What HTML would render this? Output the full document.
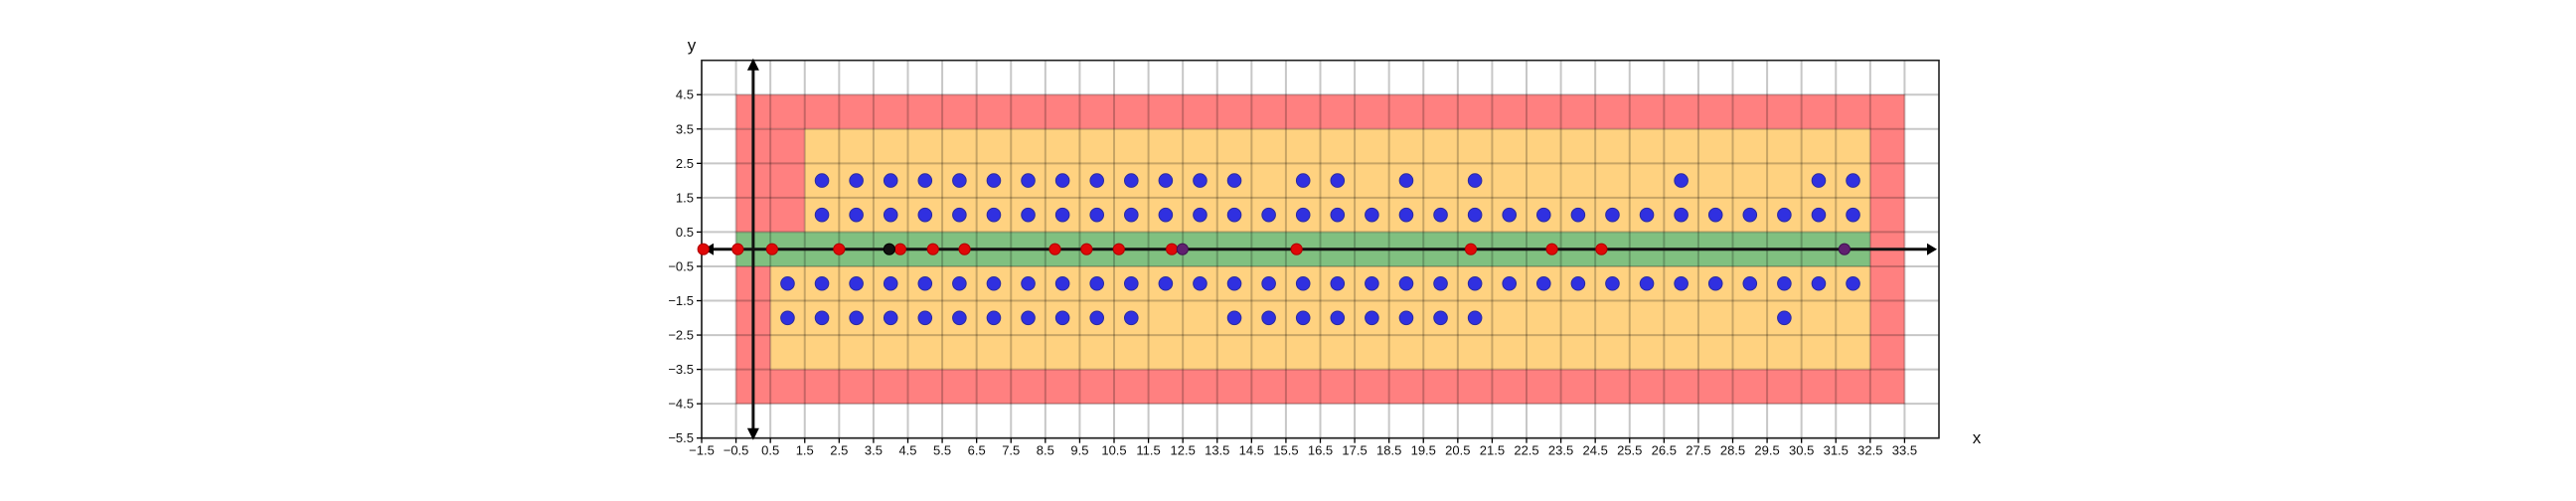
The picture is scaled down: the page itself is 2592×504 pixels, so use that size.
<!DOCTYPE html>
<html><head><meta charset="utf-8"><style>
html,body{margin:0;padding:0;background:#fff;width:2592px;height:504px;overflow:hidden}
svg{display:block;font-family:"Liberation Sans","DejaVu Sans",sans-serif}
</style></head><body>
<svg id="chart" width="2592" height="504" xmlns="http://www.w3.org/2000/svg"></svg>
<script>
const xTicks = [-1.5,-0.5,0.5,1.5,2.5,3.5,4.5,5.5,6.5,7.5,8.5,9.5,10.5,11.5,12.5,13.5,14.5,15.5,16.5,17.5,18.5,19.5,20.5,21.5,22.5,23.5,24.5,25.5,26.5,27.5,28.5,29.5,30.5,31.5,32.5,33.5];
const yTicks = [-5.5,-4.5,-3.5,-2.5,-1.5,-0.5,0.5,1.5,2.5,3.5,4.5];
const blueRow2 = [2,3,4,5,6,7,8,9,10,11,12,13,14,16,17,19,21,27,31,32];
const blueRow1 = [2,3,4,5,6,7,8,9,10,11,12,13,14,15,16,17,18,19,20,21,22,23,24,25,26,27,28,29,30,31,32];
const blueRowM1 = [1,2,3,4,5,6,7,8,9,10,11,12,13,14,15,16,17,18,19,20,21,22,23,24,25,26,27,28,29,30,31,32];
const blueRowM2 = [1,2,3,4,5,6,7,8,9,10,11,14,15,16,17,18,19,20,21,30];
const redPts = [-1.45,-0.45,0.55,2.5,4.28,5.23,6.15,8.78,9.7,10.64,12.18,15.81,20.88,23.24,24.68];
const blackPts = [3.96];
const purplePts = [12.49,31.75];
// regions: [x0,x1,y0,y1,color]
const regionX0 = [-0.5,-0.5,1.5,0.5,-0.5,32.5,-0.5];
const regionX1 = [33.5,1.5,32.5,32.5,32.5,33.5,0.5];
const regionY0 = [3.5,0.5,0.5,-3.5,-0.5,-4.5,-4.5];
const regionY1 = [4.5,3.5,3.5,-0.5,0.5,4.5,-0.5];
const regionC = ['#ff8080','#ff8080','#ffd280','#ffd280','#80c080','#ff8080','#ff8080'];
const regionN = ['red-top','red-left-top','orange-top','orange-bottom','green-band','red-right','red-left-bottom'];

const NS='http://www.w3.org/2000/svg';
const svg=document.getElementById('chart');
const L=706,R=1951,T=60.7,B=440.7,XMIN=-1.5,XMAX=34.5,YMIN=-5.5,YMAX=5.5;
const sx=v=>L+(v-XMIN)/(XMAX-XMIN)*(R-L);
const sy=v=>B-(v-YMIN)/(YMAX-YMIN)*(B-T);
function mk(tag,attrs,parent){const e=document.createElementNS(NS,tag);for(const k in attrs)e.setAttribute(k,attrs[k]);(parent||svg).appendChild(e);return e;}

// red bottom band
mk('rect',{x:sx(-0.5),y:sy(-3.5),width:sx(33.5)-sx(-0.5),height:sy(-4.5)-sy(-3.5),fill:'#ff8080'});
for(let i=0;i<regionX0.length;i++){
  const r=mk('rect',{x:sx(regionX0[i]),y:sy(regionY1[i]),width:sx(regionX1[i])-sx(regionX0[i]),height:sy(regionY0[i])-sy(regionY1[i]),fill:regionC[i]});
  
  
}
// grid
const grid=mk('g',{stroke:'rgba(0,0,0,0.22)','stroke-width':2});


xTicks.forEach(v=>mk('line',{x1:sx(v),x2:sx(v),y1:T,y2:B},grid));
yTicks.forEach(v=>mk('line',{y1:sy(v),y2:sy(v),x1:L,x2:R},grid));
// frame
const fr=mk('rect',{x:L,y:T,width:R-L,height:B-T,fill:'none',stroke:'#222','stroke-width':1.6});


// ticks + labels
xTicks.forEach(v=>{
  mk('line',{x1:sx(v),x2:sx(v),y1:B,y2:B+5,stroke:'#000','stroke-width':1.3});
  const t=mk('text',{x:sx(v),y:B+17,'font-size':13,'text-anchor':'middle',fill:'#111'});
  t.textContent=(v<0?'\u2212'+Math.abs(v):v).toString();
  
  
});
yTicks.forEach(v=>{
  mk('line',{x1:L-5,x2:L,y1:sy(v),y2:sy(v),stroke:'#000','stroke-width':1.3});
  const t=mk('text',{x:L-8,y:sy(v)+4.5,'font-size':13,'text-anchor':'end',fill:'#111'});
  t.textContent=(v<0?'\u2212'+Math.abs(v):v).toString();
  
  
});
// axes arrows
const ax=mk('g',{});


mk('line',{x1:sx(-1.3),x2:sx(34.3),y1:sy(0),y2:sy(0),stroke:'#111','stroke-width':3},ax);
mk('line',{x1:sx(0),x2:sx(0),y1:sy(5.3),y2:sy(-5.3),stroke:'#111','stroke-width':3},ax);
const y0=sy(0),x0=sx(0);
mk('polygon',{points:`${sx(34.5)-2},${y0} ${sx(34.5)-12},${y0-6} ${sx(34.5)-12},${y0+6}`,fill:'#000'},ax);
mk('polygon',{points:`${L+2},${y0} ${L+12},${y0-6} ${L+12},${y0+6}`,fill:'#000'},ax);
mk('polygon',{points:`${x0},${T-2} ${x0-6},${T+10} ${x0+6},${T+10}`,fill:'#000'},ax);
mk('polygon',{points:`${x0},${B+2} ${x0-6},${B-10} ${x0+6},${B-10}`,fill:'#000'},ax);
// points
function dots(xs,yv,r,fill,stroke,name){
  const g=mk('g',{});
  
  
  xs.forEach(x=>{
    const c=mk('circle',{cx:sx(x),cy:sy(yv),r:r,fill:fill,stroke:stroke,'stroke-width':1},g);
    
    
  });
}
dots(blueRow2,2,6.8,'#3030e0','#2a2aa0','blue-row-2');
dots(blueRow1,1,6.8,'#3030e0','#2a2aa0','blue-row-1');
dots(blueRowM1,-1,6.8,'#3030e0','#2a2aa0','blue-row-minus-1');
dots(blueRowM2,-2,6.8,'#3030e0','#2a2aa0','blue-row-minus-2');
dots(redPts,0,5.6,'#e00808','#b00000','red-points');
dots(blackPts,0,5.6,'#111','#000','black-points');
dots(purplePts,0,5.6,'#602070','#401050','purple-points');
// axis titles
const xl=mk('text',{x:1989,y:446,'font-size':17,'text-anchor':'middle',fill:'#111'});xl.textContent='x';


const yl=mk('text',{x:696,y:51,'font-size':17,'text-anchor':'middle',fill:'#111'});yl.textContent='y';


</script>
</body></html>
